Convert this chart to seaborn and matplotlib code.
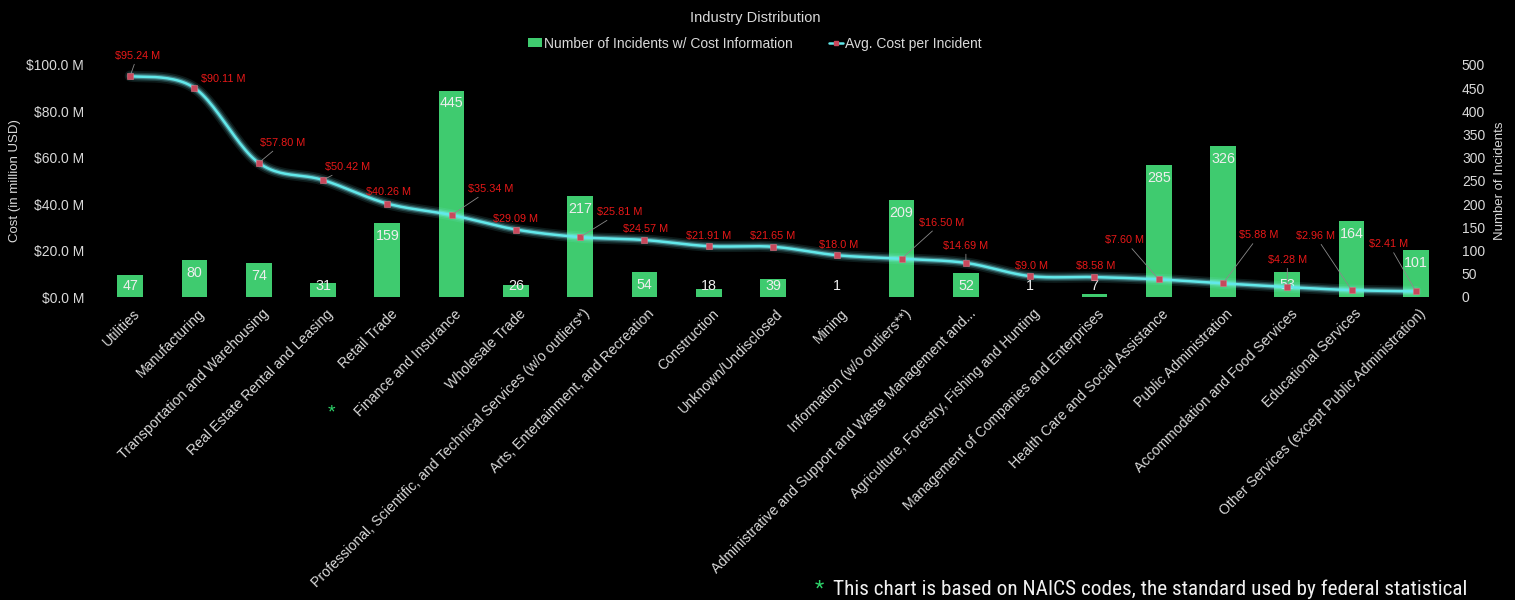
import numpy as np
import pandas as pd
import matplotlib
matplotlib.use("Agg")
import matplotlib.pyplot as plt
import matplotlib.transforms as mtransforms
import seaborn as sns
from matplotlib.patches import Patch
from matplotlib.lines import Line2D
from matplotlib.ticker import FuncFormatter, MultipleLocator
from matplotlib import font_manager

# ---- data -----------------------------------------------------------------
industries = [
    "Utilities",
    "Manufacturing",
    "Transportation and Warehousing",
    "Real Estate Rental and Leasing",
    "Retail Trade",
    "Finance and Insurance",
    "Wholesale Trade",
    "Professional, Scientific, and Technical Services (w/o outliers*)",
    "Arts, Entertainment, and Recreation",
    "Construction",
    "Unknown/Undisclosed",
    "Mining",
    "Information (w/o outliers**)",
    "Administrative and Support and Waste Management and...",
    "Agriculture, Forestry, Fishing and Hunting",
    "Management of Companies and Enterprises",
    "Health Care and Social Assistance",
    "Public Administration",
    "Accommodation and Food Services",
    "Educational Services",
    "Other Services (except Public Administration)",
]
incidents = [47, 80, 74, 31, 159, 445, 26, 217, 54, 18, 39, 1, 209, 52, 1, 7,
             285, 326, 53, 164, 101]
avg_cost_text = ["95.24", "90.11", "57.80", "50.42", "40.26", "35.34", "29.09",
                 "25.81", "24.57", "21.91", "21.65", "18.0", "16.50", "14.69",
                 "9.0", "8.58", "7.60", "5.88", "4.28", "2.96", "2.41"]
avg_cost = [float(t) for t in avg_cost_text]

# pixel offsets of each cost label from its point (layout only)
label_offsets = [(7, 20), (29, 9), (24, 20), (25, 13), (1, 12), (39, 26),
                 (0, 11), (40, 25), (1, 11), (0, 10), (0, 11), (1, 10),
                 (40, 36), (0, 17), (1, 10), (1, 11), (-34, 39), (36, 48),
                 (0, 27), (-36, 54), (-27, 47)]

# ---- style ------------------------------------------------------------------
BG = "#000000"
FG = "#d9d9d9"
GREEN = "#3fcb6f"
CYAN = "#62e8ea"
RED = "#e81818"
GRID = "#4d4d4d"

sns.set_theme(style="dark", rc={
    "figure.facecolor": BG, "axes.facecolor": BG, "savefig.facecolor": BG,
    "text.color": FG, "axes.labelcolor": FG,
    "xtick.color": FG, "ytick.color": FG,
})
plt.rcParams["font.family"] = ["Liberation Sans", "DejaVu Sans"]

df = pd.DataFrame({"industry": industries, "incidents": incidents,
                   "cost": avg_cost})

fig = plt.figure(figsize=(15.15, 6.0), dpi=100)
ax = fig.add_axes([0.0647, 0.505, 0.8911, 0.3867])

# incidents as bars (right-hand scale)
sns.barplot(data=df, x="industry", y="incidents", order=industries,
            color=GREEN, saturation=1, width=0.40, ax=ax, zorder=2,
            edgecolor="none", linewidth=0)
ax.set_ylim(0, 500)
ax.set_xlim(-0.5, len(industries) - 0.5)

# average cost on a twin axis drawn above the bars
ax2 = ax.twinx()

ax.yaxis.tick_right()
ax.yaxis.set_label_position("right")
ax.yaxis.set_major_locator(MultipleLocator(50))
ax.set_yticks(np.arange(0, 501, 100), minor=True)
ax.grid(False)
ax.grid(which="minor", axis="y", color=GRID, linewidth=1.1)
ax.set_axisbelow(True)
ax.tick_params(axis="y", which="both", length=0, pad=10, labelsize=10,
               colors=FG, left=False, labelleft=False, right=True,
               labelright=True)
ax.tick_params(axis="x", length=0, pad=7)
ax.set_ylabel("Number of Incidents", fontsize=9.5, labelpad=6)
ax.set_xlabel("")
ax.set_xticks(range(len(industries)))
ax.set_xticklabels(industries, rotation=45, ha="right", va="top",
                   rotation_mode="anchor", fontsize=10.2, color=FG)
shift = mtransforms.ScaledTranslation(3 / 100, 0, fig.dpi_scale_trans)
for lab in ax.get_xticklabels():
    lab.set_transform(lab.get_transform() + shift)
for s in ax.spines.values():
    s.set_visible(False)

for i, v in enumerate(incidents):
    ax.text(i, max(v - 28, 24), str(v), ha="center", va="center",
            color="#eeeeee", fontsize=10.3, zorder=3)

ax2.set_ylim(0, 100)
ax2.yaxis.tick_left()
ax2.yaxis.set_label_position("left")
ax2.yaxis.set_major_locator(MultipleLocator(20))
ax2.yaxis.set_major_formatter(FuncFormatter(lambda v, _: f"${v:.1f} M"))
ax2.tick_params(axis="y", length=0, pad=10, labelsize=10, colors=FG,
                left=True, labelleft=True, right=False, labelright=False)
ax2.set_ylabel("Cost (in million USD)", fontsize=9.5, labelpad=4)
ax2.grid(False)
for s in ax2.spines.values():
    s.set_visible(False)


def catmull_rom(xs, ys, n=24):
    pts = np.column_stack([xs, ys]).astype(float)
    p = np.vstack([pts[0], pts, pts[-1]])
    t = np.linspace(0, 1, n, endpoint=False)[:, None]
    segs = []
    for k in range(1, len(p) - 2):
        p0, p1, p2, p3 = p[k - 1], p[k], p[k + 1], p[k + 2]
        segs.append(0.5 * (2 * p1 + (p2 - p0) * t
                           + (2 * p0 - 5 * p1 + 4 * p2 - p3) * t ** 2
                           + (-p0 + 3 * p1 - 3 * p2 + p3) * t ** 3))
    segs.append(pts[-1][None])
    return np.vstack(segs)


xpos = np.arange(len(industries))
curve = catmull_rom(xpos, avg_cost)
for lw, a in [(8, 0.10), (5.5, 0.18), (3.5, 0.35)]:
    ax2.plot(curve[:, 0], curve[:, 1], color="#7ff6ff", lw=lw, alpha=a,
             solid_capstyle="round", zorder=4)
ax2.plot(curve[:, 0], curve[:, 1], color=CYAN, lw=1.8, zorder=5)
sns.scatterplot(x=xpos, y=avg_cost, marker="s", s=16, color="#c8485c",
                edgecolor="#e07080", linewidth=0.4, ax=ax2, zorder=6,
                legend=False)

for i, (c, txt) in enumerate(zip(avg_cost, avg_cost_text)):
    dx, dy = label_offsets[i]
    leader = (dx * dx + dy * dy) ** 0.5 > 14
    ax2.annotate(f"${txt} M", xy=(i, c), xytext=(dx, dy),
                 textcoords="offset pixels", ha="center", va="center",
                 color=RED, fontsize=7.8, zorder=7,
                 arrowprops=dict(arrowstyle="-", color="#8a8a8a", lw=0.6,
                                 shrinkA=0, shrinkB=2) if leader else None)

# ---- title, legend, notes -------------------------------------------------
fig.text(0.4983, 0.97, "Industry Distribution", ha="center", va="center",
         fontsize=10.5, color=FG)
handles = [
    Patch(facecolor=GREEN, edgecolor="none"),
    Line2D([0], [0], color=CYAN, lw=1.8, marker="s", markersize=3.5,
           markerfacecolor="#c8485c", markeredgecolor="#c8485c"),
]
fig.legend(handles, ["Number of Incidents w/ Cost Information",
                     "Avg. Cost per Incident"],
           loc="center", bbox_to_anchor=(0.4983, 0.927), ncol=2,
           frameon=False, fontsize=10, labelcolor=FG, handlelength=1.0,
           handleheight=0.6, handletextpad=0.15, columnspacing=2.6)

fig.text(331 / 1515, 1 - 413 / 600, "*", ha="center", va="center",
         fontsize=14, color="#2ed46a")

available = {f.name for f in font_manager.fontManager.ttflist}
note_family, note_size = "Roboto", 11.8
for fam, size in [("Roboto Condensed", 15.3), ("Liberation Sans Narrow", 14.5)]:
    if fam in available:
        note_family, note_size = fam, size
        break
fig.text(815 / 1515, 1 - 589 / 600, "*", ha="left", va="center",
         fontsize=note_size, color="#2ed46a", family=note_family)
fig.text(833 / 1515, 1 - 589 / 600,
         "This chart is based on NAICS codes, the standard used by federal statistical",
         ha="left", va="center", fontsize=note_size, color="#f0f0f0",
         family=note_family)

fig.savefig("out.png", dpi=100, facecolor=BG)
